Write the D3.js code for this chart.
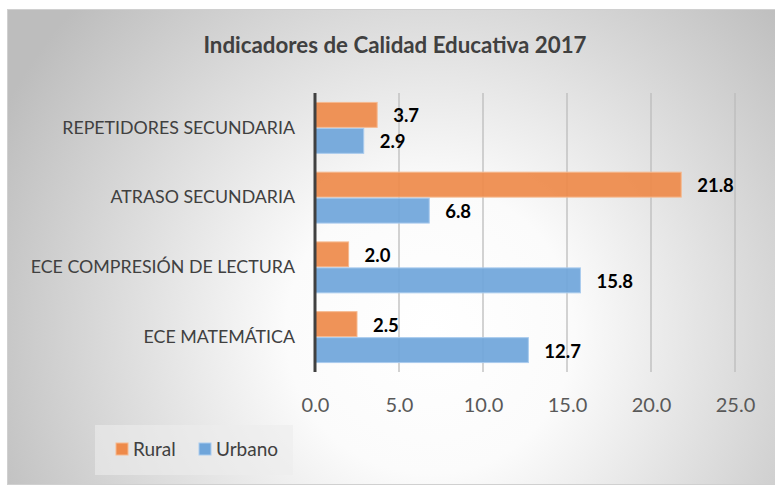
<!DOCTYPE html>
<html>
<head>
<meta charset="utf-8">
<script src="https://cdn.jsdelivr.net/npm/d3@7"></script>
<style>
  body { margin: 0; background: #fff; }
  text { font-family: Lato, "Open Sans", sans-serif; }
</style>
</head>
<body>
<svg id="chart" width="775" height="486"></svg>
<script>
const categorias = ['REPETIDORES SECUNDARIA', 'ATRASO SECUNDARIA', 'ECE COMPRESIÓN DE LECTURA', 'ECE MATEMÁTICA'];
const series = ['Rural', 'Urbano'];
const rural = [3.7, 21.8, 2.0, 2.5];
const urbano = [2.9, 6.8, 15.8, 12.7];
const ticks = [0, 5, 10, 15, 20, 25];

const colores = { Rural: '#ee8a4a', Urbano: '#6fa5da' };
const bordes = { Rural: '#f6b98f', Urbano: '#a9cbee' };

const svg = d3.select('#chart');
const margin = { top: 93, left: 315, right: 41, bottom: 114 };
const W = 775, H = 486;

// fondo con degradado radial
const defs = svg.append('defs');
const rg = defs.append('radialGradient')
	.attr('id', 'fondo')
	.attr('gradientUnits', 'userSpaceOnUse')
	.attr('cx', 430).attr('cy', 330).attr('r', 480);
rg.append('stop').attr('offset', '0%').attr('stop-color', '#ffffff');
rg.append('stop').attr('offset', '30%').attr('stop-color', '#fbfbfb');
rg.append('stop').attr('offset', '100%').attr('stop-color', '#bdbdbd');

svg.append('rect')
	.attr('x', 7.5).attr('y', 9.5)
	.attr('width', W - 7).attr('height', H - 11)
	.attr('fill', 'url(#fondo)')
	.attr('stroke', '#d0d0d0');

svg.append('text')
	.attr('x', 395).attr('y', 53)
	.attr('text-anchor', 'middle')
	.attr('font-size', 22.3).attr('font-weight', 'bold')
	.attr('fill', '#404040')
	.text('Indicadores de Calidad Educativa 2017');

const x = d3.scaleLinear().domain([0, 25]).range([margin.left, margin.left + 420]);
const y = d3.scaleBand().domain(categorias).range([margin.top, H - margin.bottom]).paddingInner(0.27).paddingOuter(0.135);
const ySerie = d3.scaleBand().domain(series).range([0, y.bandwidth()]).paddingInner(0.04);

// lineas de cuadricula
svg.append('g')
	.selectAll('line')
	.data(ticks.slice(1))
	.join('line')
	.attr('x1', d => x(d)).attr('x2', d => x(d))
	.attr('y1', margin.top).attr('y2', H - margin.bottom)
	.attr('stroke', '#bcbcbc').attr('stroke-width', 1.3);

const datos = categorias.map((c, i) => ({ categoria: c, Rural: rural[i], Urbano: urbano[i] }));

const grupos = svg.append('g')
	.selectAll('g')
	.data(datos)
	.join('g')
	.attr('transform', d => `translate(0, ${y(d.categoria)})`);

grupos.selectAll('rect')
	.data(d => series.map(s => ({ serie: s, valor: d[s] })))
	.join('rect')
	.attr('x', x(0))
	.attr('y', d => ySerie(d.serie))
	.attr('width', d => x(d.valor) - x(0))
	.attr('height', ySerie.bandwidth())
	.attr('fill', d => colores[d.serie])
	.attr('fill-opacity', 0.92)
	.attr('stroke', d => bordes[d.serie])
	.attr('stroke-width', 1);

grupos.selectAll('text.valor')
	.data(d => series.map(s => ({ serie: s, valor: d[s] })))
	.join('text')
	.attr('class', 'valor')
	.attr('x', d => x(d.valor) + 16)
	.attr('y', d => ySerie(d.serie) + ySerie.bandwidth() / 2 + 1)
	.attr('dy', '0.35em')
	.attr('font-size', 18.5).attr('font-weight', 'bold')
	.attr('fill', '#000')
	.text(d => d.valor.toFixed(1));

// eje vertical (cero)
svg.append('line')
	.attr('x1', x(0)).attr('x2', x(0))
	.attr('y1', margin.top).attr('y2', H - margin.bottom)
	.attr('stroke', '#404040').attr('stroke-width', 3);

// etiquetas de categorias
const yAxis = d3.axisLeft(y).tickSize(0).tickPadding(0);
const gy = svg.append('g')
	.attr('transform', `translate(${x(0) - 20}, 0)`)
	.call(yAxis);
gy.select('.domain').remove();
gy.selectAll('text')
	.attr('font-size', 17.8)
	.attr('font-family', 'Lato, sans-serif')
	.attr('fill', '#404040');

// eje x
const xAxis = d3.axisBottom(x).tickValues(ticks).tickSize(0).tickPadding(0).tickFormat(d3.format('.1f'));
const gx = svg.append('g')
	.attr('transform', `translate(0, ${H - margin.bottom + 26})`)
	.call(xAxis);
gx.select('.domain').remove();
gx.selectAll('text')
	.attr('font-size', 20)
	.attr('font-family', 'Lato, sans-serif')
	.attr('fill', '#595959');

// leyenda
const leyenda = svg.append('g');
leyenda.append('rect')
	.attr('x', 95).attr('y', 425).attr('width', 198).attr('height', 50)
	.attr('fill', '#ececec').attr('fill-opacity', 0.6);
const itemsLeyenda = [{ serie: 'Rural', x: 116 }, { serie: 'Urbano', x: 199 }];
leyenda.selectAll('rect.marca')
	.data(itemsLeyenda)
	.join('rect')
	.attr('class', 'marca')
	.attr('x', d => d.x).attr('y', 443)
	.attr('width', 12).attr('height', 12)
	.attr('fill', d => colores[d.serie])
	.attr('stroke', d => bordes[d.serie]);
leyenda.selectAll('text')
	.data(itemsLeyenda)
	.join('text')
	.attr('x', d => d.x + 17).attr('y', 449)
	.attr('dy', '0.35em')
	.attr('font-size', 19)
	.attr('fill', '#404040')
	.text(d => d.serie);
</script>
</body>
</html>
